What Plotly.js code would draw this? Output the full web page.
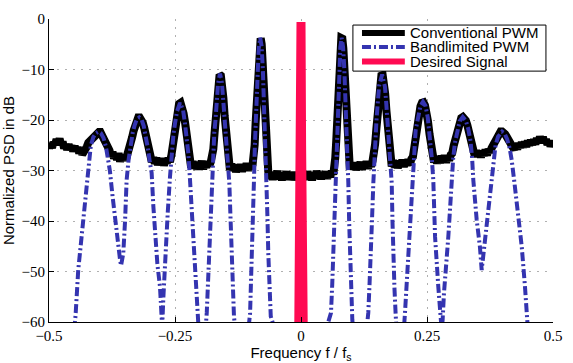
<!DOCTYPE html>
<html>
<head>
<meta charset="utf-8">
<script src="https://cdn.plot.ly/plotly-3.0.1.min.js"></script>
<style>html,body{margin:0;padding:0;background:#fff;}#chart{width:573px;height:363px;}</style>
</head>
<body>
<div id="chart"></div>
<script>
// ---- Data ----
const seriesNames = ["Conventional PWM", "Bandlimited PWM", "Desired Signal"];

const convX = [
-0.500,-0.497,-0.494,-0.491,-0.488,-0.485,-0.482,-0.479,-0.476,-0.473,-0.470,-0.467,-0.464,-0.461,-0.458,-0.455,-0.452,-0.449,-0.446,-0.443,-0.440,-0.437,-0.434,-0.431,-0.428,
-0.425,-0.422,-0.419,-0.416,-0.413,-0.410,-0.407,-0.404,-0.401,-0.398,-0.395,-0.392,-0.389,-0.386,-0.383,-0.380,
-0.377,-0.374,-0.371,-0.368,-0.365,-0.362,-0.359,-0.356,-0.353,-0.350,-0.347,-0.344,
-0.341,-0.338,-0.335,-0.332,-0.329,-0.326,-0.323,-0.320,-0.317,-0.314,-0.311,-0.308,-0.305,-0.302,-0.299,
-0.296,-0.293,-0.290,-0.287,-0.284,-0.281,-0.278,-0.275,-0.272,-0.269,-0.266,-0.263,-0.260,
-0.257,-0.254,-0.251,-0.248,-0.245,-0.242,-0.239,-0.236,-0.233,-0.230,-0.227,-0.224,-0.221,
-0.218,-0.215,-0.212,-0.209,-0.206,-0.203,-0.200,-0.197,-0.194,-0.191,-0.188,-0.185,-0.182,-0.179,
-0.1765,-0.174,-0.1715,-0.169,-0.1665,-0.164,-0.1615,-0.159,-0.1565,-0.154,-0.1515,-0.149,-0.1465,-0.144,
-0.141,-0.138,-0.135,-0.132,-0.129,-0.126,-0.123,-0.120,-0.117,-0.114,-0.111,-0.108,-0.105,-0.102,-0.099,-0.096,
-0.094,-0.092,-0.090,-0.088,-0.086,-0.084,-0.082,-0.080,-0.078,-0.076,-0.074,-0.072,-0.070,-0.068,
-0.065,-0.062,-0.059,-0.056,-0.053,-0.050,-0.047,-0.044,-0.041,-0.038,-0.035,-0.032,-0.029,-0.026,-0.023,-0.020,-0.017,-0.014,-0.011,-0.008,-0.005,-0.002,
0.001,0.004,0.007,0.010,0.013,0.016,0.019,0.022,0.025,0.028,0.031,0.034,0.037,0.040,0.043,0.046,0.049,0.052,0.055,0.058,0.061,0.064,
0.066,0.068,0.070,0.072,0.074,0.076,0.078,0.080,0.082,0.084,0.086,0.088,0.090,0.092,0.094,
0.097,0.100,0.103,0.106,0.109,0.112,0.115,0.118,0.121,0.124,0.127,0.130,0.133,0.136,0.139,0.142,
0.1445,0.147,0.1495,0.152,0.1545,0.157,0.1595,0.162,0.1645,0.167,0.1695,0.172,0.1745,0.177,
0.180,0.183,0.186,0.189,0.192,0.195,0.198,0.201,0.204,0.207,0.210,0.213,0.216,0.219,
0.222,0.225,0.228,0.231,0.234,0.237,0.240,0.243,0.246,0.249,0.252,0.255,0.258,0.261,
0.264,0.267,0.270,0.273,0.276,0.279,0.282,0.285,0.288,0.291,0.294,0.297,
0.300,0.303,0.306,0.309,0.312,0.315,0.318,0.321,0.324,0.327,0.330,0.333,0.336,0.339,0.342,
0.345,0.348,0.351,0.354,0.357,0.360,0.363,0.366,0.369,0.372,0.375,
0.378,0.381,0.384,0.387,0.390,0.393,0.396,0.399,0.402,0.405,0.408,0.411,0.414,0.417,0.420,
0.423,0.426,0.429,0.432,0.435,0.438,0.441,0.444,0.447,0.450,0.453,0.456,0.459,0.462,0.465,0.468,0.471,0.474,0.477,0.480,0.483,0.486,0.489,0.492,0.495,0.498,0.500];
const convY = [
-25.6,-24.7,-25.5,-24.4,-24.9,-23.8,-24.6,-23.7,-24.9,-24.3,-25.6,-24.8,-25.9,-24.9,-25.7,-25.1,-26.2,-25.2,-26.1,-25.4,-26.6,-25.7,-26.8,-25.9,-26.0,
-25.3,-24.5,-24.2,-23.5,-23.3,-22.8,-22.6,-22.2,-22.4,-22.4,-23.0,-23.3,-24.1,-24.6,-25.7,-26.0,
-27.2,-26.3,-27.6,-26.7,-27.9,-26.6,-28.2,-27.1,-28.0,-26.9,-27.7,-26.8,
-26.3,-25.0,-23.4,-22.1,-20.9,-20.1,-19.5,-19.5,-19.9,-20.5,-21.6,-22.8,-24.3,-25.9,-27.2,
-28.3,-27.4,-28.6,-27.5,-28.9,-27.8,-28.7,-27.6,-29.0,-27.9,-28.5,-27.6,-28.3,
-26.9,-24.3,-21.4,-19.6,-17.8,-16.8,-16.6,-17.3,-18.7,-20.5,-22.9,-25.7,-27.8,
-29.4,-28.2,-29.6,-28.4,-29.8,-28.3,-29.3,-28.1,-29.7,-28.5,-29.4,-28.2,-29.1,-28.3,
-27.5,-25.8,-22.6,-19.0,-15.6,-12.8,-11.0,-11.2,-12.8,-15.6,-19.2,-22.3,-25.5,-28.0,
-29.9,-28.7,-30.0,-28.9,-30.3,-29.0,-30.1,-28.8,-30.2,-29.1,-29.9,-28.6,-30.0,-28.9,-29.7,-28.8,
-27.6,-25.0,-20.5,-15.5,-10.5,-6.3,-4.0,-3.8,-5.0,-8.8,-13.5,-18.5,-23.5,-28.0,
-30.2,-31.6,-30.3,-31.8,-30.5,-31.4,-30.1,-31.7,-30.6,-31.9,-30.4,-31.5,-30.2,-31.8,-30.7,-31.6,-30.3,-31.9,-30.5,-31.4,-30.6,-31.3,
-30.4,-31.7,-30.5,-31.8,-30.2,-31.5,-30.6,-31.9,-30.4,-31.6,-30.1,-31.4,-30.5,-31.7,-30.3,-31.5,-30.2,-31.6,-30.4,-31.3,-30.1,-30.8,
-29.5,-27.5,-24.0,-19.0,-14.0,-9.5,-5.8,-3.8,-3.9,-5.8,-10.0,-15.0,-20.0,-24.8,-28.0,
-29.8,-28.5,-29.7,-28.4,-29.9,-28.6,-29.5,-28.3,-29.8,-28.5,-29.4,-28.2,-29.6,-28.4,-29.2,-28.1,
-26.8,-24.8,-21.8,-18.4,-15.0,-12.6,-11.2,-11.1,-12.4,-14.8,-18.2,-21.6,-24.8,-27.4,
-29.2,-28.0,-29.4,-28.1,-29.5,-28.2,-29.1,-27.9,-29.3,-28.0,-29.0,-27.8,-28.9,-27.7,
-27.3,-25.3,-22.7,-20.4,-18.6,-17.3,-16.6,-16.5,-17.1,-18.4,-20.3,-22.8,-25.4,-27.5,
-28.4,-27.2,-28.6,-27.3,-28.5,-27.1,-28.3,-27.0,-28.4,-27.2,-28.0,-26.9,
-26.6,-25.1,-23.6,-22.2,-21.0,-20.2,-19.6,-19.4,-19.6,-20.1,-21.0,-22.3,-23.7,-25.2,-26.3,
-27.2,-26.0,-27.3,-26.1,-27.4,-26.2,-27.1,-25.9,-27.0,-25.8,-26.4,
-25.6,-24.9,-24.2,-23.7,-23.0,-22.7,-22.3,-22.3,-22.4,-22.8,-23.3,-23.9,-24.5,-25.1,-25.6,
-25.9,-24.8,-25.8,-24.6,-25.5,-24.4,-25.4,-24.3,-25.3,-24.1,-25.0,-24.0,-24.9,-23.9,-24.8,-23.6,-24.5,-23.3,-24.2,-23.4,-24.5,-23.8,-24.9,-24.1,-25.2,-24.5,-25.0];

const bandX = [-0.460,-0.452,-0.447,-0.442,-0.437,-0.432,-0.427,-0.422,-0.417,-0.412,-0.407,-0.402,-0.397,-0.392,-0.387,-0.382,-0.379,-0.374,-0.369,-0.364,-0.359,-0.357,-0.355,-0.3526,-0.349,-0.346,-0.342,-0.338,-0.334,-0.330,-0.326,-0.321,-0.316,-0.312,-0.308,-0.304,-0.300,-0.2963,-0.293,-0.2897,-0.285,-0.2798,-0.2764,-0.2755,-0.273,-0.269,-0.2645,-0.2599,-0.2565,-0.253,-0.250,-0.246,-0.240,-0.234,-0.2302,-0.2265,-0.2236,-0.2202,-0.217,-0.2137,-0.210,-0.207,-0.197,-0.187,-0.1845,-0.182,-0.1795,-0.1772,-0.1746,-0.172,-0.1697,-0.167,-0.1645,-0.1607,-0.157,-0.1545,-0.1518,-0.147,-0.1422,-0.1398,-0.1375,-0.135,-0.133,-0.117,-0.101,-0.0995,-0.0978,-0.0955,-0.0933,-0.0915,-0.0885,-0.086,-0.084,-0.081,-0.078,-0.0755,-0.0735,-0.0705,-0.068,-0.0665,-0.0649,-0.0625,-0.060,0.000,0.0595,0.062,0.064,0.066,0.0675,0.070,0.073,0.0755,0.078,0.0807,0.0835,0.086,0.0885,0.0915,0.0939,0.0955,0.0972,0.0995,0.1018,0.1175,0.1335,0.136,0.139,0.141,0.1435,0.146,0.1495,0.152,0.155,0.161,0.1665,0.169,0.1715,0.175,0.180,0.1815,0.183,0.1855,0.188,0.197,0.2063,0.2097,0.213,0.2163,0.2196,0.2235,0.2275,0.2325,0.237,0.242,0.247,0.2515,0.2555,0.2595,0.2625,0.266,0.2724,0.2772,0.279,0.281,0.2837,0.2923,0.299,0.302,0.3055,0.310,0.315,0.321,0.327,0.332,0.3365,0.3395,0.3419,0.3486,0.355,0.3585,0.362,0.365,0.3717,0.3784,0.381,0.386,0.391,0.396,0.399,0.404,0.409,0.414,0.418,0.423,0.428,0.433,0.438,0.4444,0.449,0.456];
const bandY = [-75,-66,-58.2,-49.7,-44.5,-39.8,-33.5,-28.5,-25.0,-23.4,-22.6,-22.3,-22.6,-23.5,-25.3,-28.3,-30.2,-35.0,-39.8,-44.0,-47.7,-48.8,-47.8,-46.4,-39.8,-31.9,-27.8,-25.0,-22.6,-21.0,-19.9,-19.5,-20.0,-21.2,-23.0,-25.5,-28.3,-30.5,-37.0,-43.1,-48.5,-53.0,-59.6,-61.0,-55.0,-46.4,-38.5,-31.2,-26.6,-22.8,-20.7,-18.3,-16.6,-18.0,-20.7,-23.6,-26.6,-31.9,-39.0,-46.4,-52.5,-58.2,-72,-58.2,-52.3,-46.4,-39.5,-32.5,-27.0,-22.5,-20.0,-16.0,-12.8,-10.8,-12.6,-15.8,-20.0,-25.5,-32.5,-39.5,-46.4,-52.5,-58.9,-74,-58.2,-53.0,-48.3,-40.0,-31.9,-25.0,-16.0,-10.0,-6.0,-3.7,-5.5,-10.5,-16.0,-25.0,-32.5,-39.5,-46.4,-52.5,-58.9,-78,-58.2,-52.5,-46.4,-39.5,-31.9,-25.0,-16.0,-10.0,-5.6,-3.7,-5.6,-10.0,-16.0,-25.0,-32.5,-40.0,-47.7,-53.5,-59.6,-74,-58.2,-52.5,-46.4,-39.5,-32.5,-26.5,-20.5,-17.0,-13.2,-11.0,-13.4,-16.5,-20.5,-25.5,-32.5,-40.0,-47.7,-53.5,-58.9,-72,-58.2,-52.3,-46.4,-39.5,-32.5,-26.8,-22.0,-19.5,-17.2,-16.4,-17.2,-19.5,-23.0,-27.5,-31.9,-43.1,-53.0,-59.6,-61.5,-59.6,-54.3,-43.1,-31.9,-27.5,-24.5,-22.0,-20.2,-19.4,-20.1,-21.8,-24.3,-27.5,-31.9,-39.8,-45.1,-49.7,-46.5,-43.1,-38.4,-31.9,-28.5,-25.0,-23.3,-22.5,-22.3,-22.7,-23.8,-25.6,-27.9,-32.0,-36.4,-40.8,-45.1,-53.0,-59.6,-70];

const sigX = [-0.0045,-0.0012,0.0,0.0012,0.0045];
const sigY = [-62,-25,-0.6,-25,-62];

const xTickVals = [-0.5,-0.25,0,0.25,0.5];
const xTickText = ["\u22120.5","\u22120.25","0","0.25","0.5"];
const yTickVals = [-60,-50,-40,-30,-20,-10,0];
const yTickText = ["\u221260","\u221250","\u221240","\u221230","\u221220","\u221210","0"];

// ---- Styles ----
const colors = ["#000000", "#3434b0", "#ff0a52"];
const blueDash = "9px,3px,2px,3px";

const traces = [
  {x: convX, y: convY, type: "scatter", mode: "lines", name: seriesNames[0],
   line: {color: colors[0], width: 8}, showlegend: false, hoverinfo: "skip"},
  {x: bandX, y: bandY, type: "scatter", mode: "lines", name: seriesNames[1],
   line: {color: colors[1], width: 4, dash: blueDash}, showlegend: false, hoverinfo: "skip"},
  {x: sigX, y: sigY, type: "scatter", mode: "lines", name: seriesNames[2],
   line: {color: colors[2], width: 9}, showlegend: false, hoverinfo: "skip"}
];

// manual legend (compact, like the reference)
const legX0 = 0.603, legX1 = 0.986, legY0 = 0.828, legY1 = 0.980;
const keyX0 = 0.621, keyX1 = 0.706, textX = 0.714;
const rowY = [0.9538, 0.9076, 0.8597];
const keyWidths = [6, 4, 6];
const keyDash = ["solid", blueDash, "solid"];

const shapes = [{type: "rect", xref: "paper", yref: "paper", x0: legX0, x1: legX1, y0: legY0, y1: legY1,
  line: {color: "#000", width: 1}, fillcolor: "#fff", layer: "above"}];
const annotations = [];
for (let i = 0; i < 3; i++) {
  shapes.push({type: "line", xref: "paper", yref: "paper", x0: keyX0, x1: keyX1, y0: rowY[i], y1: rowY[i],
    line: {color: colors[i], width: keyWidths[i], dash: keyDash[i]}, layer: "above"});
  annotations.push({xref: "paper", yref: "paper", x: textX, y: rowY[i], xanchor: "left", yanchor: "middle",
    text: seriesNames[i], showarrow: false, borderpad: 0,
    font: {family: "Liberation Sans, Arial, sans-serif", size: 15, color: "#000"}});
}

const tickFont = {family: "Liberation Serif, Times New Roman, serif", size: 15, color: "#000"};
const titleFont = {family: "Liberation Sans, Arial, sans-serif", size: 15, color: "#000"};

const layout = {
  width: 573, height: 363,
  margin: {l: 49, r: 20, t: 19, b: 41, pad: 0},
  paper_bgcolor: "#fff", plot_bgcolor: "#fff",
  showlegend: false,
  xaxis: {
    range: [-0.5, 0.5], tickvals: xTickVals, ticktext: xTickText,
    showline: true, linecolor: "#000", linewidth: 1, mirror: false,
    ticks: "inside", ticklen: 5, tickcolor: "#000", tickwidth: 1,
    showgrid: true, gridcolor: "#b0b0b0", gridwidth: 1, griddash: "2px,6px",
    zeroline: false, tickfont: tickFont,
    title: {text: "Frequency f / f<sub>s</sub>", font: titleFont, standoff: 6}
  },
  yaxis: {
    range: [-60, 0], tickvals: yTickVals, ticktext: yTickText,
    showline: true, linecolor: "#000", linewidth: 1, mirror: false,
    ticks: "inside", ticklen: 5, tickcolor: "#000", tickwidth: 1,
    showgrid: true, gridcolor: "#b0b0b0", gridwidth: 1, griddash: "2px,6px",
    zeroline: false, tickfont: tickFont,
    title: {text: "Normalized PSD in dB", font: titleFont, standoff: 4}
  },
  shapes: shapes,
  annotations: annotations
};

Plotly.newPlot("chart", traces, layout, {staticPlot: true, displayModeBar: false});
</script>
</body>
</html>
